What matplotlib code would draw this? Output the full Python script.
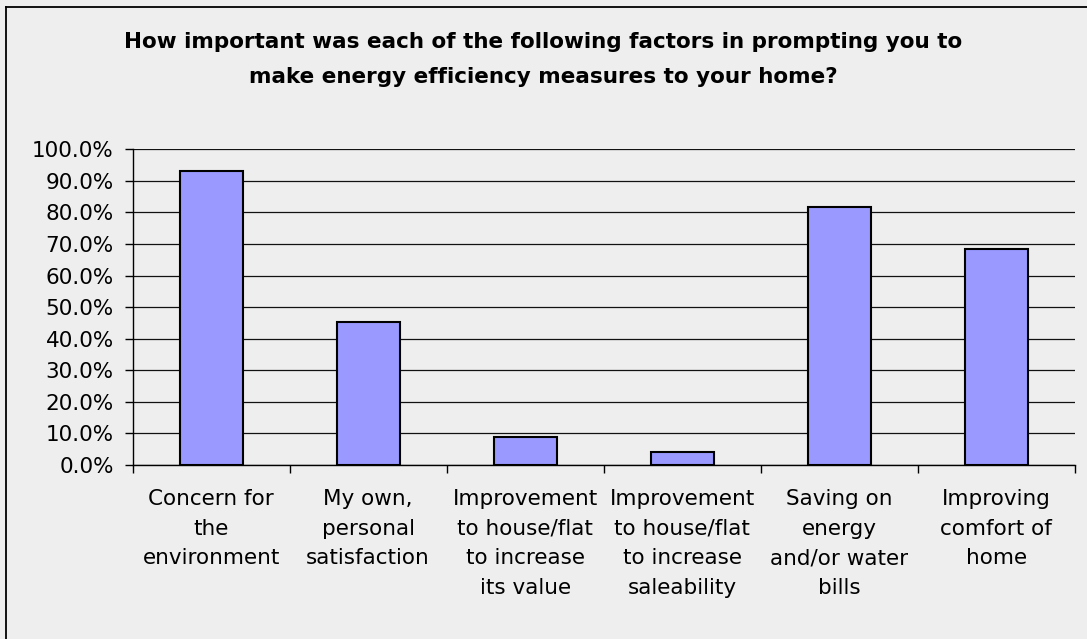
import numpy as np
import matplotlib
matplotlib.use("Agg")
import matplotlib.pyplot as plt
from matplotlib.lines import Line2D

# data
categories = [
    "Concern for\nthe\nenvironment",
    "My own,\npersonal\nsatisfaction",
    "Improvement\nto house/flat\nto increase\nits value",
    "Improvement\nto house/flat\nto increase\nsaleability",
    "Saving on\nenergy\nand/or water\nbills",
    "Improving\ncomfort of\nhome",
]
values = [93.2, 45.3, 9.0, 4.1, 81.8, 68.4]
y_ticks = np.arange(0, 101, 10)
title = ("How important was each of the following factors in prompting you to\n"
         "make energy efficiency measures to your home?")

bg = "#EEEEEE"
plt.rcParams["font.family"] = ["DejaVu Sans"]

fig = plt.figure(figsize=(10.87, 6.39), dpi=100, facecolor=bg)
ax = fig.add_axes([0.122, 0.2723, 0.8667, 0.4941])
ax.set_facecolor(bg)

x = np.arange(len(categories))
ax.bar(x, values, width=0.4, color="#9999FF", edgecolor="black", linewidth=1.5, zorder=3)

ax.set_xlim(-0.5, len(categories) - 0.5)
ax.set_ylim(0, 100)
ax.set_yticks(y_ticks)
ax.set_yticklabels([f"{v:.1f}%" for v in y_ticks], fontsize=15.5)
ax.yaxis.grid(True, color="#111111", linewidth=0.9, zorder=0)
ax.set_axisbelow(True)

ax.set_xticks(x)
ax.set_xticklabels(categories, fontsize=15.5, linespacing=1.62)
ax.set_xticks(np.arange(len(categories) + 1) - 0.5, minor=True)
ax.tick_params(axis="x", which="major", length=0, pad=17)
ax.tick_params(axis="x", which="minor", length=5.5, width=1, direction="out")
ax.tick_params(axis="y", length=5.5, width=1, direction="out", pad=8)

for s in ["top", "right"]:
    ax.spines[s].set_visible(False)
for s in ["left", "bottom"]:
    ax.spines[s].set_color("black")
    ax.spines[s].set_linewidth(1)

fig.text(0.5, 1 - 32 / 639, title, ha="center", va="top", fontsize=15.5,
         fontweight="bold", linespacing=1.95)

# outer chart border (runs off the right and bottom of the picture)
fig.add_artist(Line2D([6 / 1087, 6 / 1087], [-0.1, 1 - 7 / 639], color="black", lw=1.3,
                      transform=fig.transFigure))
fig.add_artist(Line2D([6 / 1087, 1.1], [1 - 7 / 639, 1 - 7 / 639], color="black", lw=1.3,
                      transform=fig.transFigure))

fig.savefig("out.png", dpi=100, facecolor=bg)
